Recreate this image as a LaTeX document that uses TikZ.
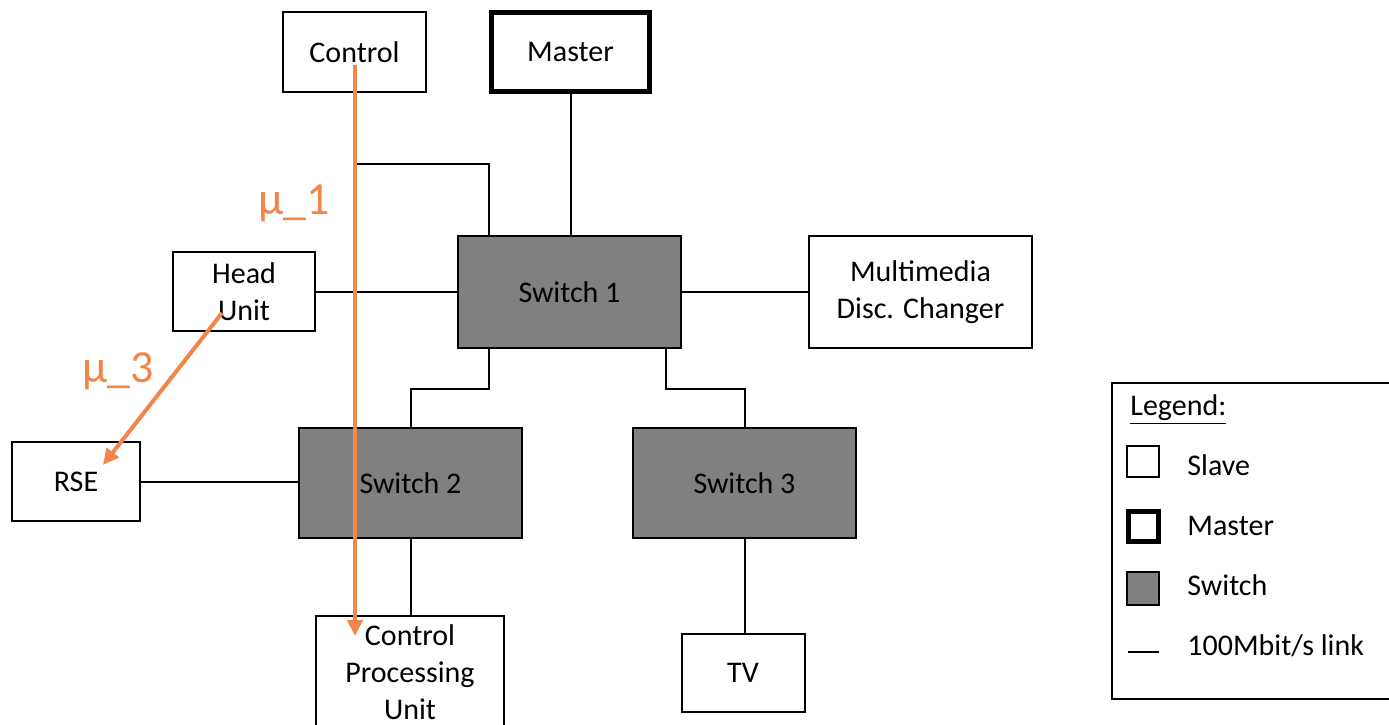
\documentclass[tikz,border=0pt]{standalone}
\usepackage{fontspec}
\setmainfont{Carlito}
\usepackage{tikz}
\usetikzlibrary{arrows.meta, calc}
\definecolor{swgray}{RGB}{128,128,128}
\definecolor{flow}{RGB}{242,133,74}
\tikzstyle{slave} = [draw, line width=1pt, fill=white, align=center, inner sep=0pt, font=\fontsize{15}{18.5}\selectfont]
\tikzstyle{master} = [slave, line width=2.5pt]
\tikzstyle{switch} = [slave, fill=swgray]
\tikzstyle{link} = [line width=1pt]
\tikzstyle{flow} = [line width=2pt, color=flow, -{Triangle[length=8pt,width=7.5pt]}]
\tikzstyle{flowlabel} = [text=flow, font=\fontsize{23}{26}\selectfont]
\tikzstyle{legtext} = [anchor=west, inner sep=0pt, font=\fontsize{15}{18.5}\selectfont]

\begin{document}
\begin{tikzpicture}[x=0.5pt,y=-0.5pt]
    \useasboundingbox (0,0) rectangle (1389,724);
    % units
    \node[slave, minimum width=71.5pt, minimum height=40pt] (control) at (354.5,52) {Control};
    \node[master, minimum width=79pt, minimum height=39.5pt] (master) at (570.5,52) {Master};
    \node[switch, minimum width=111.5pt, minimum height=56pt] (sw1) at (569.5,292) {Switch 1};
    \node[slave, minimum width=71pt, minimum height=39.5pt] (head) at (244,291.5) {Head\\Unit};
    \node[slave, minimum width=111.5pt, minimum height=56pt] (mdc) at (920.5,292) {Multimedia\\Disc. Changer};
    \node[switch, minimum width=111.5pt, minimum height=55pt] (sw2) at (410.5,483) {Switch 2};
    \node[switch, minimum width=111.5pt, minimum height=55pt] (sw3) at (744.5,483) {Switch 3};
    \node[slave, minimum width=64pt, minimum height=39.5pt] (rse) at (76,481.5) {RSE};
    \node[slave, minimum width=94pt, minimum height=56pt] (cpu) at (410,672) {Control\\Processing\\Unit};
    \node[slave, minimum width=61.5pt, minimum height=39pt] (tv) at (743,673) {TV};
    % links
    \draw[link] (control.south) -- ++(0,71) -| ([xshift=16pt]sw1.north west);
    \draw[link] (master.south) -- (master.south |- sw1.north);
    \draw[link] (head.east) -- (head.east -| sw1.west);
    \draw[link] (sw1.east) -- (mdc.west);
    \draw[link] ([xshift=16pt]sw1.south west) -- ++(0,40) -| (sw2.north);
    \draw[link] ([xshift=-8pt]sw1.south east) -- ++(0,40) -| (sw3.north);
    \draw[link] (rse.east) -- (rse.east -| sw2.west);
    \draw[link] (sw2.south) -- (sw2.south |- cpu.north);
    \draw[link] (sw3.south) -- (sw3.south |- tv.north);
    % messages
    \coordinate (m1a) at (355,65);
    \coordinate (m1b) at (355,636);
    \coordinate (m3a) at (222,313);
    \coordinate (m3b) at (103,465);
    \draw[flow] (m1a) -- (m1b);
    \draw[flow] (m3a) -- (m3b);
    \node[flowlabel] (mu1) at (294,203) {µ\_1};
    \node[flowlabel] (mu3) at (118,371) {µ\_3};
    % legend
    \node[draw, line width=1pt, minimum width=144.5pt, minimum height=158pt, anchor=north west] (legend) at (1111,382) {};
    \node[legtext] (legtitle) at (1130,410) {\underline{Legend:}};
    \node[slave, minimum width=16pt, minimum height=15.5pt] (kslave) at (1143,461.5) {};
    \node[master, minimum width=15pt, minimum height=15pt] (kmaster) at (1143,526) {};
    \node[switch, minimum width=16pt, minimum height=16.5pt] (kswitch) at (1143,588.5) {};
    \coordinate (klinka) at (1128,652);
    \coordinate (klinkb) at (1159,652);
    \draw[link] (klinka) -- (klinkb);
    \node[legtext] (tslave) at (1187,465) {Slave};
    \node[legtext] (tmaster) at (1187,526) {Master};
    \node[legtext] (tswitch) at (1187,585) {Switch};
    \node[legtext] (tlink) at (1187,646) {100Mbit/s link};
\end{tikzpicture}
\end{document}
